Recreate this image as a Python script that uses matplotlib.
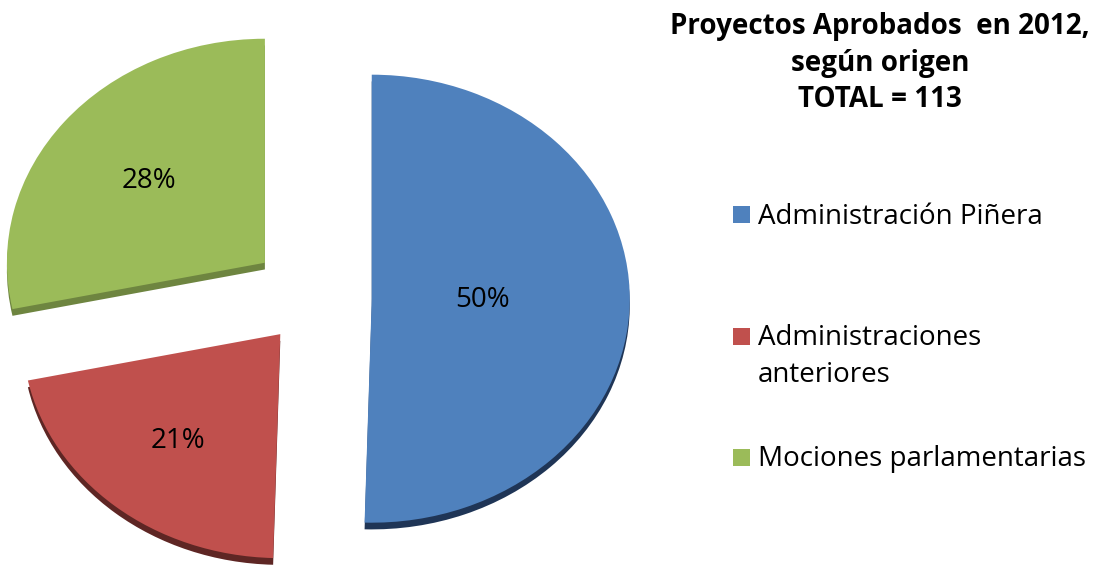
import matplotlib.pyplot as plt
from matplotlib.patches import Rectangle
import numpy as np

categorias = ["Administración Piñera", "Administraciones\nanteriores", "Mociones parlamentarias"]
proyectos = [57, 24, 32]
colores = ["#4F81BD", "#C0504D", "#9BBB59"]
sombras = ["#1F3556", "#5E2624", "#6E8540"]
explode = [0.22, 0.21, 0.25]
titulo = "Proyectos Aprobados  en 2012,\nsegún origen\nTOTAL = 113"

W, H = 1105, 566
fig = plt.figure(figsize=(W / 100, H / 100), dpi=100)

# pie centre (pixels from top-left) and radii -> slightly flattened ellipse
cx, cy = 315, 298
rx, ry = 258, 224
half_h = H - cy
ax = fig.add_axes([0, 0, 2 * cx / W, 2 * half_h / H])

# dark copy shifted down gives the thin 3D rim
ax.pie(proyectos, colors=sombras, explode=explode, startangle=90,
       counterclock=False, center=(0, -0.03), frame=True)
wedges, _, autotexts = ax.pie(
    proyectos, colors=colores, explode=explode, startangle=90,
    counterclock=False, autopct='%.0f%%', frame=True,
    textprops=dict(fontsize=20, family='Open Sans'))
ax.set_aspect('auto')
ax.set_xlim(-cx / rx, cx / rx)
ax.set_ylim(-half_h / ry, half_h / ry)
ax.axis('off')

# label distance from each wedge apex (fraction of radius)
dist = [0.43, 0.62, 0.58]
for w, t, d in zip(wedges, autotexts, dist):
    ang = np.deg2rad((w.theta1 + w.theta2) / 2)
    cxw, cyw = w.center
    t.set_position((cxw + d * np.cos(ang), cyw + d * np.sin(ang)))
    t.set_va('center')

fig.text(880 / W, 1 - 12 / H, titulo, ha='center', va='top', fontsize=20,
         fontweight='bold', family='Open Sans', linespacing=1.35)

# legend drawn by hand so the square sits on the first text line
y0, step = 215, 121
for i, (lab, col) in enumerate(zip(categorias, colores)):
    yc = y0 + i * step
    fig.patches.append(Rectangle((733 / W, 1 - (yc + 8.5) / H), 17 / W, 17 / H,
                                 transform=fig.transFigure, facecolor=col,
                                 edgecolor='none'))
    fig.text(758 / W, 1 - (yc - 12) / H, lab, ha='left', va='top', fontsize=20,
             family='Open Sans', linespacing=1.45)

fig.savefig('out.png', dpi=100)
